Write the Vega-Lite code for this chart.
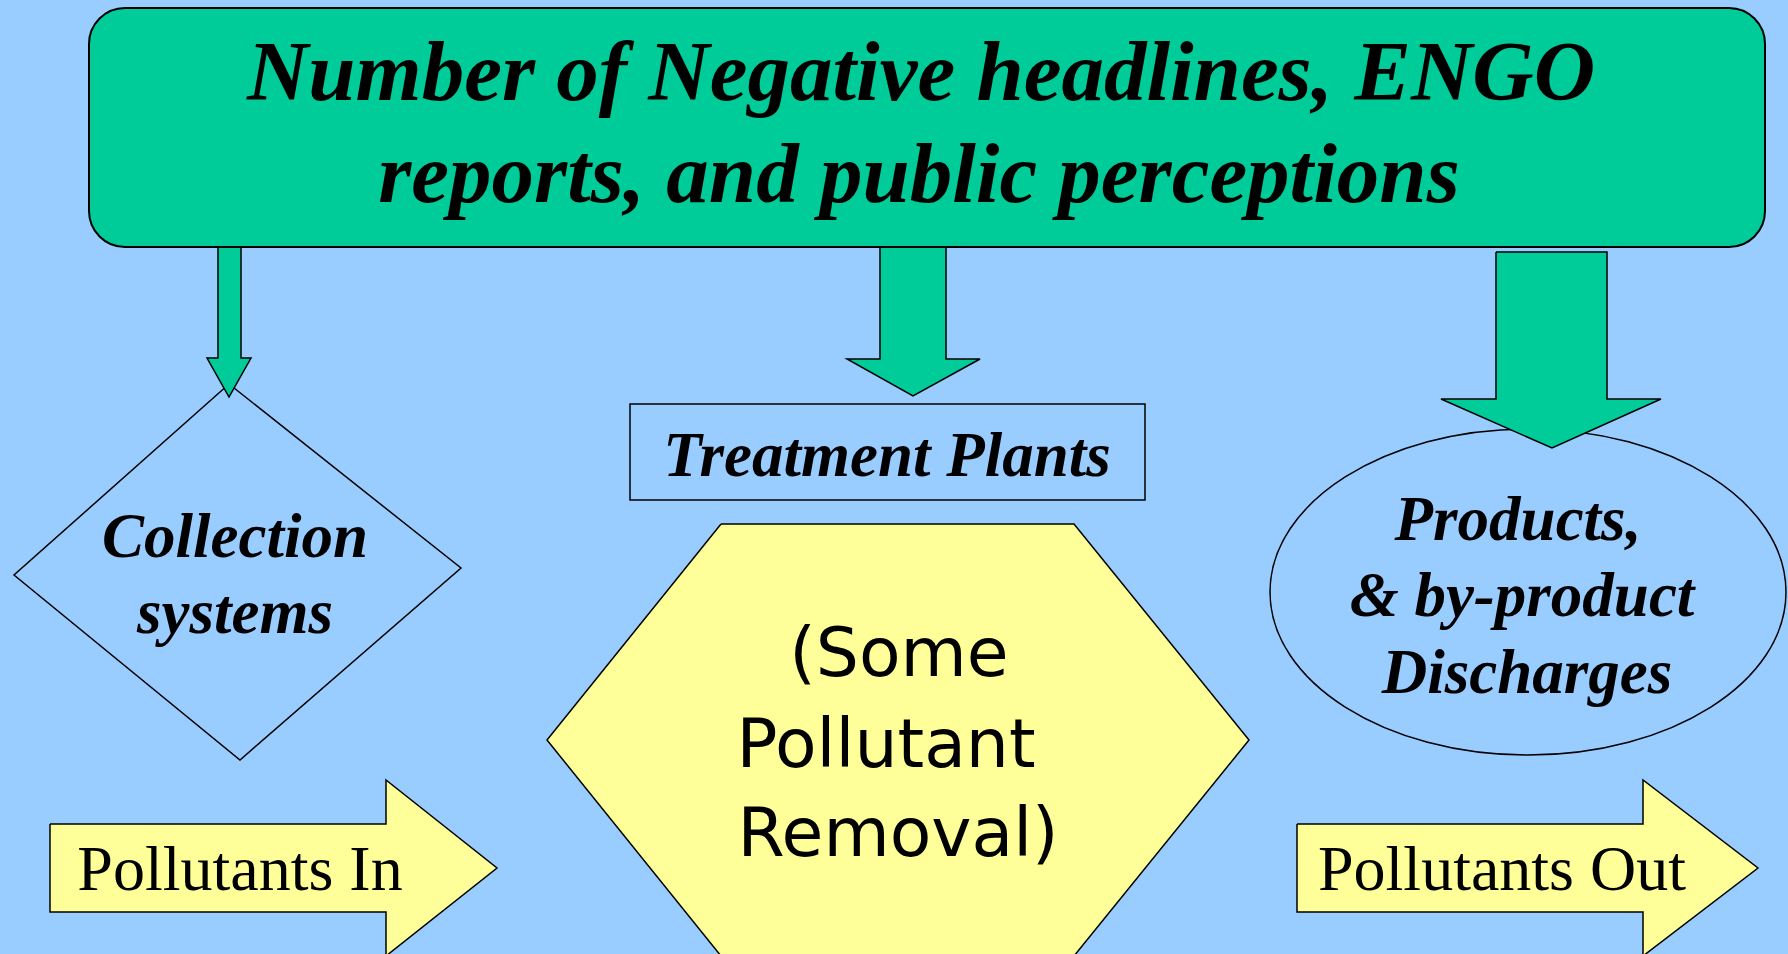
{
  "$schema": "https://vega.github.io/schema/vega-lite/v6.json",
  "width": 1788,
  "height": 954,
  "autosize": {"type": "none"},
  "padding": 0,
  "background": "#99CCFF",
  "config": {"view": {"stroke": null}},
  "datasets": {
    "polys": [
      {"shape": "A1", "kind": "green", "i": 0, "x": 218, "y": 247},
      {"shape": "A1", "kind": "green", "i": 1, "x": 241, "y": 247},
      {"shape": "A1", "kind": "green", "i": 2, "x": 241, "y": 358},
      {"shape": "A1", "kind": "green", "i": 3, "x": 251, "y": 358},
      {"shape": "A1", "kind": "green", "i": 4, "x": 229, "y": 397},
      {"shape": "A1", "kind": "green", "i": 5, "x": 207, "y": 358},
      {"shape": "A1", "kind": "green", "i": 6, "x": 218, "y": 358},
      {"shape": "A1", "kind": "green", "i": 7, "x": 218, "y": 247},
      {"shape": "A2", "kind": "green", "i": 0, "x": 880, "y": 247},
      {"shape": "A2", "kind": "green", "i": 1, "x": 946, "y": 247},
      {"shape": "A2", "kind": "green", "i": 2, "x": 946, "y": 359},
      {"shape": "A2", "kind": "green", "i": 3, "x": 980, "y": 359},
      {"shape": "A2", "kind": "green", "i": 4, "x": 913, "y": 396},
      {"shape": "A2", "kind": "green", "i": 5, "x": 847, "y": 359},
      {"shape": "A2", "kind": "green", "i": 6, "x": 880, "y": 359},
      {"shape": "A2", "kind": "green", "i": 7, "x": 880, "y": 247},
      {"shape": "A3", "kind": "green", "i": 0, "x": 1496, "y": 252},
      {"shape": "A3", "kind": "green", "i": 1, "x": 1607, "y": 252},
      {"shape": "A3", "kind": "green", "i": 2, "x": 1607, "y": 399},
      {"shape": "A3", "kind": "green", "i": 3, "x": 1661, "y": 399},
      {"shape": "A3", "kind": "green", "i": 4, "x": 1552, "y": 448},
      {"shape": "A3", "kind": "green", "i": 5, "x": 1441, "y": 399},
      {"shape": "A3", "kind": "green", "i": 6, "x": 1496, "y": 399},
      {"shape": "A3", "kind": "green", "i": 7, "x": 1496, "y": 252},
      {"shape": "Y1", "kind": "yellow", "i": 0, "x": 50, "y": 824},
      {"shape": "Y1", "kind": "yellow", "i": 1, "x": 386, "y": 824},
      {"shape": "Y1", "kind": "yellow", "i": 2, "x": 386, "y": 780},
      {"shape": "Y1", "kind": "yellow", "i": 3, "x": 497, "y": 868},
      {"shape": "Y1", "kind": "yellow", "i": 4, "x": 386, "y": 956},
      {"shape": "Y1", "kind": "yellow", "i": 5, "x": 386, "y": 912},
      {"shape": "Y1", "kind": "yellow", "i": 6, "x": 50, "y": 912},
      {"shape": "Y1", "kind": "yellow", "i": 7, "x": 50, "y": 824},
      {"shape": "Y2", "kind": "yellow", "i": 0, "x": 1297, "y": 824},
      {"shape": "Y2", "kind": "yellow", "i": 1, "x": 1643, "y": 824},
      {"shape": "Y2", "kind": "yellow", "i": 2, "x": 1643, "y": 780},
      {"shape": "Y2", "kind": "yellow", "i": 3, "x": 1758, "y": 868},
      {"shape": "Y2", "kind": "yellow", "i": 4, "x": 1643, "y": 956},
      {"shape": "Y2", "kind": "yellow", "i": 5, "x": 1643, "y": 912},
      {"shape": "Y2", "kind": "yellow", "i": 6, "x": 1297, "y": 912},
      {"shape": "Y2", "kind": "yellow", "i": 7, "x": 1297, "y": 824},
      {"shape": "HEX", "kind": "yellow", "i": 0, "x": 721, "y": 524},
      {"shape": "HEX", "kind": "yellow", "i": 1, "x": 1074, "y": 524},
      {"shape": "HEX", "kind": "yellow", "i": 2, "x": 1249, "y": 740},
      {"shape": "HEX", "kind": "yellow", "i": 3, "x": 1074, "y": 956},
      {"shape": "HEX", "kind": "yellow", "i": 4, "x": 721, "y": 956},
      {"shape": "HEX", "kind": "yellow", "i": 5, "x": 547, "y": 740},
      {"shape": "HEX", "kind": "yellow", "i": 6, "x": 721, "y": 524},
      {"shape": "DIA", "kind": "outline", "i": 0, "x": 229, "y": 384},
      {"shape": "DIA", "kind": "outline", "i": 1, "x": 461, "y": 568},
      {"shape": "DIA", "kind": "outline", "i": 2, "x": 240, "y": 760},
      {"shape": "DIA", "kind": "outline", "i": 3, "x": 14, "y": 575},
      {"shape": "DIA", "kind": "outline", "i": 4, "x": 229, "y": 384}
    ],
    "boxes": [
      {"name": "top", "x1": 89, "x2": 1765, "y1": 8, "y2": 247},
      {"name": "treatment", "x1": 630, "x2": 1145, "y1": 404, "y2": 500}
    ],
    "ellipse": [
      {"name": "products", "x": 1528, "y": 592}
    ],
    "texts": [
      {"g": "title", "t": "Number of Negative headlines, ENGO", "x": 921, "y": 100},
      {"g": "title", "t": "reports, and public perceptions", "x": 919, "y": 202},
      {"g": "label", "t": "Collection", "x": 235, "y": 557},
      {"g": "label", "t": "systems", "x": 235, "y": 633},
      {"g": "label", "t": "Treatment Plants", "x": 887, "y": 476},
      {"g": "label", "t": "Products,", "x": 1518, "y": 540},
      {"g": "label", "t": "& by-product", "x": 1522, "y": 616},
      {"g": "label", "t": "Discharges", "x": 1527, "y": 693},
      {"g": "plain", "t": "Pollutants In", "x": 240, "y": 890},
      {"g": "plain", "t": "Pollutants Out", "x": 1502, "y": 890},
      {"g": "comic", "t": "(Some", "x": 899, "y": 676},
      {"g": "comic", "t": "Pollutant", "x": 886, "y": 767},
      {"g": "comic", "t": "Removal)", "x": 898, "y": 856}
    ]
  },
  "layer": [
    {
      "data": {"name": "polys"},
      "transform": [{"filter": "datum.kind === 'outline'"}],
      "mark": {"type": "line", "stroke": "black", "strokeWidth": 1.5, "strokeJoin": "miter"},
      "encoding": {
        "x": {"field": "x", "type": "quantitative", "scale": {"domain": [0, 1788], "nice": false, "zero": false}, "axis": null},
        "y": {"field": "y", "type": "quantitative", "scale": {"domain": [0, 954], "nice": false, "zero": false, "reverse": true}, "axis": null},
        "detail": {"field": "shape"},
        "order": {"field": "i", "type": "quantitative"}
      }
    },
    {
      "data": {"name": "ellipse"},
      "mark": {
        "type": "point",
        "shape": "M -1 0 C -1 -0.349 -0.552 -0.632 0 -0.632 C 0.552 -0.632 1 -0.349 1 0 C 1 0.349 0.552 0.632 0 0.632 C -0.552 0.632 -1 0.349 -1 0 Z",
        "size": 266256,
        "filled": false,
        "stroke": "black",
        "strokeWidth": 1.5,
        "opacity": 1
      },
      "encoding": {
        "x": {"field": "x", "type": "quantitative"},
        "y": {"field": "y", "type": "quantitative"}
      }
    },
    {
      "data": {"name": "boxes"},
      "transform": [{"filter": "datum.name === 'treatment'"}],
      "mark": {"type": "rect", "fill": null, "fillOpacity": 0, "stroke": "black", "strokeWidth": 1.5},
      "encoding": {
        "x": {"field": "x1", "type": "quantitative"},
        "x2": {"field": "x2"},
        "y": {"field": "y1", "type": "quantitative"},
        "y2": {"field": "y2"}
      }
    },
    {
      "data": {"name": "polys"},
      "transform": [{"filter": "datum.kind === 'yellow'"}],
      "mark": {"type": "line", "fill": "#FFFF99", "stroke": "black", "strokeWidth": 1.5, "strokeJoin": "miter"},
      "encoding": {
        "x": {"field": "x", "type": "quantitative"},
        "y": {"field": "y", "type": "quantitative"},
        "detail": {"field": "shape"},
        "order": {"field": "i", "type": "quantitative"}
      }
    },
    {
      "data": {"name": "polys"},
      "transform": [{"filter": "datum.kind === 'green'"}],
      "mark": {"type": "line", "fill": "#00CC99", "stroke": "black", "strokeWidth": 1.5, "strokeJoin": "miter"},
      "encoding": {
        "x": {"field": "x", "type": "quantitative"},
        "y": {"field": "y", "type": "quantitative"},
        "detail": {"field": "shape"},
        "order": {"field": "i", "type": "quantitative"}
      }
    },
    {
      "data": {"name": "boxes"},
      "transform": [{"filter": "datum.name === 'top'"}],
      "mark": {"type": "rect", "fill": "#00CC99", "stroke": "black", "strokeWidth": 2, "cornerRadius": 36},
      "encoding": {
        "x": {"field": "x1", "type": "quantitative"},
        "x2": {"field": "x2"},
        "y": {"field": "y1", "type": "quantitative"},
        "y2": {"field": "y2"}
      }
    },
    {
      "data": {"name": "texts"},
      "transform": [{"filter": "datum.g === 'title'"}],
      "mark": {"type": "text", "font": "Liberation Serif", "fontStyle": "italic", "fontWeight": "bold", "fontSize": 85, "align": "center", "baseline": "alphabetic", "color": "black"},
      "encoding": {
        "x": {"field": "x", "type": "quantitative"},
        "y": {"field": "y", "type": "quantitative"},
        "text": {"field": "t"}
      }
    },
    {
      "data": {"name": "texts"},
      "transform": [{"filter": "datum.g === 'label'"}],
      "mark": {"type": "text", "font": "Liberation Serif", "fontStyle": "italic", "fontWeight": "bold", "fontSize": 63, "align": "center", "baseline": "alphabetic", "color": "black"},
      "encoding": {
        "x": {"field": "x", "type": "quantitative"},
        "y": {"field": "y", "type": "quantitative"},
        "text": {"field": "t"}
      }
    },
    {
      "data": {"name": "texts"},
      "transform": [{"filter": "datum.g === 'plain'"}],
      "mark": {"type": "text", "font": "Liberation Serif", "fontSize": 64, "align": "center", "baseline": "alphabetic", "color": "black"},
      "encoding": {
        "x": {"field": "x", "type": "quantitative"},
        "y": {"field": "y", "type": "quantitative"},
        "text": {"field": "t"}
      }
    },
    {
      "data": {"name": "texts"},
      "transform": [{"filter": "datum.g === 'comic'"}],
      "mark": {"type": "text", "font": "Comic Sans MS, DejaVu Sans", "fontSize": 68, "align": "center", "baseline": "alphabetic", "color": "black"},
      "encoding": {
        "x": {"field": "x", "type": "quantitative"},
        "y": {"field": "y", "type": "quantitative"},
        "text": {"field": "t"}
      }
    }
  ]
}
